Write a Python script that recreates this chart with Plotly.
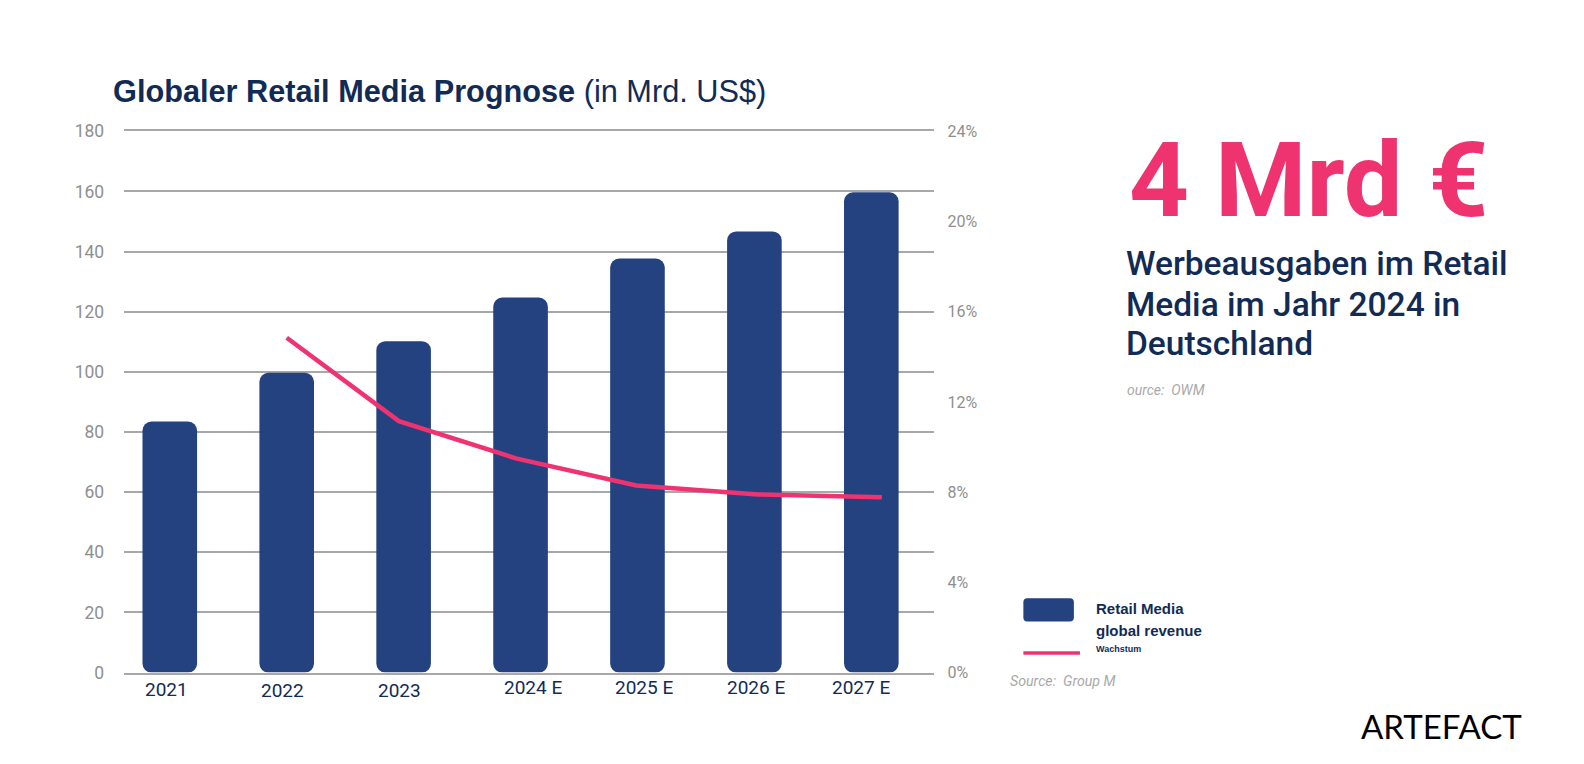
import plotly.graph_objects as go

# values
YEARS = ["2021", "2022", "2023", "2024 E", "2025 E", "2026 E", "2027 E"]
REVENUE = [83.5, 99.7, 110.2, 124.7, 137.7, 146.7, 159.7]
GROWTH = [14.85, 11.15, 9.5, 8.3, 7.9, 7.78]
# the growth line is not centred on the bars in the original, position in bar slots
GROWTH_POS = [1.0, 1.96, 2.96, 3.99, 5.03, 6.09]
LEFT_TICKS = [0, 20, 40, 60, 80, 100, 120, 140, 160, 180]
RIGHT_TICKS = [0, 4, 8, 12, 16, 20, 24]
RIGHT_LABELS = ["0%", "4%", "8%", "12%", "16%", "20%", "24%"]

# the tick labels in the original were placed by hand
LABEL_SHIFT_X = [-3, -4, -4, 12, 7, 2, -10]
LABEL_Y = [682, 683, 683, 680, 680, 680, 680]

NAVY = "#122b54"
BAR = "#24427f"
PINK = "#ee3370"
GRID = "#a8a8a8"
GREY = "#8f8f8f"
SOURCE = "#a9a9a9"

W, H = 1568, 748
# measured from a first render: paper area starts at (8, 8) and is 1552 x 740
PAPER_W, PAPER_H = 1552, 740
X_RANGE = [-0.39, 6.54]


def px(x):
    return (x - 8) / PAPER_W


def py(y):
    return 1 - (y - 8) / PAPER_H


fig = go.Figure()
# an explicit base makes cornerradius round both ends of the bar
fig.add_trace(go.Bar(
    x=YEARS, y=REVENUE, base=[0] * len(YEARS), width=0.467,
    marker=dict(color=BAR, cornerradius=9, line_width=0), name="Retail Media global revenue",
))
fig.add_trace(go.Scatter(
    x=GROWTH_POS, y=GROWTH, xaxis="x2", yaxis="y2", mode="lines",
    line=dict(color=PINK, width=4.5), name="Wachstum",
))


def note(text, x, y, size, color=NAVY, family="Roboto", anchor="left", **kw):
    fig.add_annotation(
        text=text, x=px(x), y=py(y), xref="paper", yref="paper", showarrow=False,
        xanchor=anchor, yanchor="middle", font=dict(family=family, size=size, color=color, **kw),
    )


for i, (year, shift, y) in enumerate(zip(YEARS, LABEL_SHIFT_X, LABEL_Y)):
    fig.add_annotation(
        text=year, x=i, xref="x", y=py(y), yref="paper", xshift=shift, showarrow=False,
        xanchor="center", yanchor="middle", font=dict(family="Roboto", size=19, color=NAVY),
    )

note("4 Mrd €", 1116, 179, 104.5, PINK, weight=700)
note("Werbeausgaben im Retail", 1113, 261, 33.5, weight=500)
note("Media im Jahr 2024 in", 1113, 301, 33.5, weight=500)
note("Deutschland", 1113, 340, 33.5, weight=500)
note("<i>ource:  OWM</i>", 1114, 386, 14, SOURCE)
note("<b>Retail Media</b>", 1083, 602, 15, family="Liberation Sans")
note("<b>global revenue</b>", 1083, 624, 15, family="Liberation Sans")
note("<b>Wachstum</b>", 1083, 642, 9, family="Liberation Sans")
note("<i>Source:  Group M</i>", 998, 674, 14.2, SOURCE)
note("ARTEFACT", 1345, 718, 33, "#000000", "Lato")

# legend swatches
fig.add_shape(
    type="path", xref="paper", yref="paper", line_width=0, fillcolor=BAR,
    path=(
        f"M {px(1017)} {py(592)} L {px(1059)} {py(592)} Q {px(1063)} {py(592)} {px(1063)} {py(596)} "
        f"L {px(1063)} {py(611)} Q {px(1063)} {py(615)} {px(1059)} {py(615)} "
        f"L {px(1017)} {py(615)} Q {px(1013)} {py(615)} {px(1013)} {py(611)} "
        f"L {px(1013)} {py(596)} Q {px(1013)} {py(592)} {px(1017)} {py(592)} Z"
    ),
)
fig.add_shape(
    type="line", xref="paper", yref="paper", x0=px(1013), x1=px(1069), y0=py(646), y1=py(646),
    line=dict(color=PINK, width=3.5),
)

fig.update_layout(
    width=W, height=H, margin=dict(l=0, r=0, t=0, b=0),
    paper_bgcolor="white", plot_bgcolor="white", showlegend=False, barmode="overlay",
    title=dict(
        text="<b>Globaler Retail Media Prognose</b> (in Mrd. US$)",
        x=px(112), y=py(90), xref="paper", yref="paper", xanchor="left", yanchor="middle",
        font=dict(family="Liberation Sans", size=30.7, color=NAVY),
    ),
    xaxis=dict(
        domain=[px(123), px(925)], type="category", categoryorder="array", categoryarray=YEARS,
        range=X_RANGE, showticklabels=False, showgrid=False, zeroline=False, automargin=False,
        # grid is dropped at the ends of the range, so the 0 and 180 lines come from the axis line
        showline=True, mirror=True, linecolor=GRID, linewidth=1.5,
    ),
    xaxis2=dict(overlaying="x", anchor="y2", range=X_RANGE, visible=False, automargin=False),
    yaxis=dict(
        domain=[py(665.5), py(130)], range=[0, 180], tickvals=LEFT_TICKS, automargin=False,
        showgrid=True, gridcolor=GRID, gridwidth=1.5, zeroline=False, ticklabelstandoff=19,
        tickfont=dict(family="Roboto", size=17.5, color=GREY),
    ),
    yaxis2=dict(
        overlaying="y", side="right", range=[0, 24], tickvals=RIGHT_TICKS, ticktext=RIGHT_LABELS,
        showgrid=False, zeroline=False, ticklabelstandoff=12, automargin=False,
        tickfont=dict(family="Roboto", size=16, color=GREY),
    ),
)

fig.write_html("out.html")
